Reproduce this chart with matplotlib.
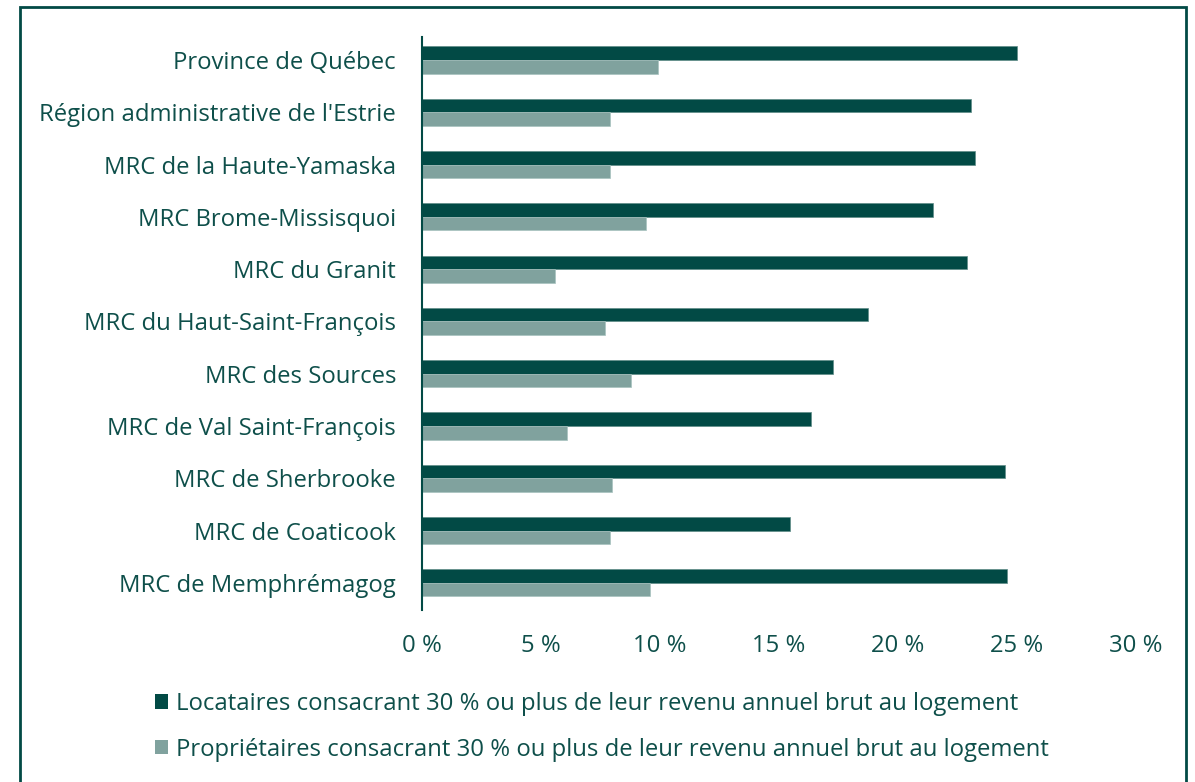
import matplotlib.pyplot as plt
from matplotlib.patches import Rectangle, Patch

categories = [
    "Province de Québec",
    "Région administrative de l'Estrie",
    "MRC de la Haute-Yamaska",
    "MRC Brome-Missisquoi",
    "MRC du Granit",
    "MRC du Haut-Saint-François",
    "MRC des Sources",
    "MRC de Val Saint-François",
    "MRC de Sherbrooke",
    "MRC de Coaticook",
    "MRC de Memphrémagog",
]
locataires = [25.0, 23.05, 23.25, 21.45, 22.9, 18.75, 17.25, 16.35, 24.5, 15.45, 24.6]
proprietaires = [9.9, 7.9, 7.9, 9.4, 5.6, 7.7, 8.8, 6.1, 8.0, 7.9, 9.6]
xticks = [0, 5, 10, 15, 20, 25, 30]
xtick_labels = ["0 %", "5 %", "10 %", "15 %", "20 %", "25 %", "30 %"]
legend_labels = [
    "Locataires consacrant 30 % ou plus de leur revenu annuel brut au logement",
    "Propriétaires consacrant 30 % ou plus de leur revenu annuel brut au logement",
]

dark = "#024a45"
light = "#80a29e"
text_c = "#0e4f4a"
fs = 17.2

plt.rcParams['font.family'] = ['Open Sans', 'DejaVu Sans']

fig = plt.figure(figsize=(11.95, 7.82), dpi=100)
ax = fig.add_axes([422/1195, 1-610/782, (1136-422)/1195, (610-37)/782])

h = 0.26
ys = list(range(len(categories)))
ax.barh([y - h/2 for y in ys], locataires, height=h, color=dark,
        edgecolor="#5f8c88", linewidth=0.5)
ax.barh([y + h/2 for y in ys], proprietaires, height=h, color=light,
        edgecolor="#a8c2bf", linewidth=0.5)

ax.set_xlim(0, 30)
ax.set_ylim(len(categories) - 1 + 0.52, -0.44)
ax.set_yticks(ys)
ax.set_yticklabels(categories, fontsize=fs, color=text_c)
ax.set_xticks(xticks)
ax.set_xticklabels(xtick_labels, fontsize=fs, color=text_c)
ax.tick_params(axis='both', length=0)
ax.tick_params(axis='y', pad=18.7)
ax.tick_params(axis='x', pad=17.5)
for s in ['top', 'right', 'bottom']:
    ax.spines[s].set_visible(False)
ax.spines['left'].set_color(dark)
ax.spines['left'].set_linewidth(1.5)

# legend
handles = [Patch(facecolor=dark), Patch(facecolor=light)]
leg = fig.legend(handles, legend_labels, loc='upper left',
                 bbox_to_anchor=(155/1195, 1-692/782), frameon=False,
                 borderpad=0, borderaxespad=0,
                 fontsize=fs, labelcolor=text_c, handlelength=0.54,
                 handleheight=0.54, handletextpad=0.33, labelspacing=0.9)

# border
fig.patches.append(Rectangle((20/1195, -0.05), (1186-20)/1195, 1.05 - 7/782,
                             transform=fig.transFigure, fill=False,
                             edgecolor=dark, linewidth=2))

fig.savefig("out.png", dpi=100)
